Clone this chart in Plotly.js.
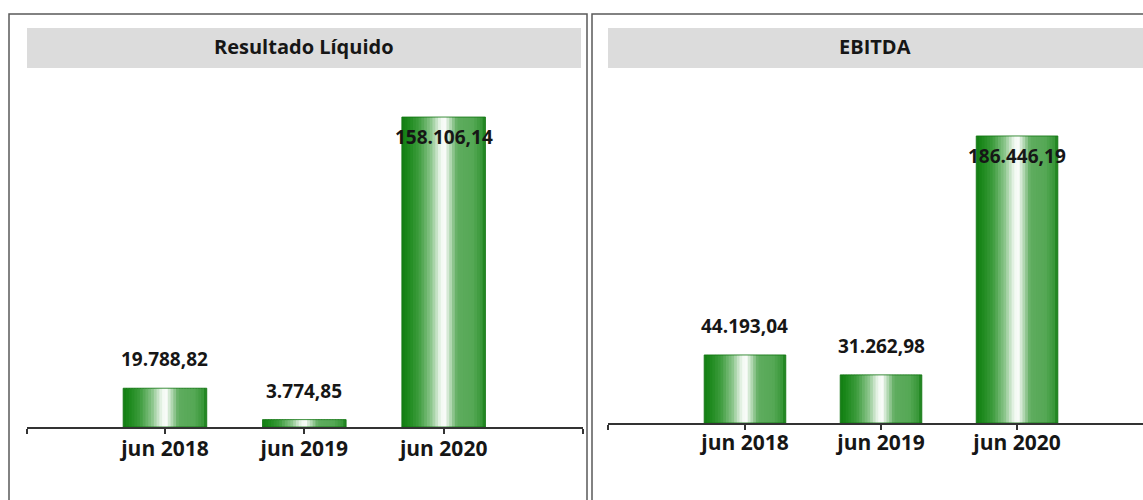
<!DOCTYPE html>
<html>
<head>
<meta charset="utf-8">
<script src="https://cdn.plot.ly/plotly-3.0.1.min.js"></script>
<style>
  html, body { margin: 0; padding: 0; background: #fff; }
  #chart { width: 1143px; height: 500px; }
</style>
</head>
<body>
<div id="chart"></div>
<script>
// data
const categories = ['jun 2018', 'jun 2019', 'jun 2020'];
const resultadoLiquido = [19788.82, 3774.85, 158106.14];
const ebitda = [44193.04, 31262.98, 186446.19];
const panelTitles = ['Resultado Líquido', 'EBITDA'];

const W = 1143, H = 500;
const px = x => x / W;
const py = y => 1 - y / H;

const FONT = '"Open Sans", "DejaVu Sans", sans-serif';
const BAR_W = 0.6;
const STRIPS = 30;

// horizontal colour profile of the bars (left edge -> right edge)
const profile = [
	[0.00, [20, 125, 20]],
	[0.06, [25, 135, 25]],
	[0.20, [60, 155, 60]],
	[0.35, [140, 198, 140]],
	[0.46, [235, 245, 235]],
	[0.51, [255, 255, 255]],
	[0.57, [190, 222, 190]],
	[0.66, [95, 172, 95]],
	[0.85, [85, 168, 85]],
	[0.96, [55, 150, 55]],
	[1.00, [20, 125, 20]]
];

function colourAt(t) {
	for (let i = 1; i < profile.length; i++) {
		if (t <= profile[i][0]) {
			const [t0, c0] = profile[i - 1];
			const [t1, c1] = profile[i];
			const f = (t - t0) / (t1 - t0);
			const c = c0.map((v, k) => Math.round(v + (c1[k] - v) * f));
			return `rgb(${c.join(',')})`;
		}
	}
	return 'rgb(20,125,20)';
}

function fmt(v) {
	const [intPart, dec] = v.toFixed(2).split('.');
	return intPart.replace(/\B(?=(\d{3})+(?!\d))/g, '.') + ',' + dec;
}

// gradient bars: narrow vertical strips side by side, all from the same values
function gradientBars(values, xa, ya) {
	const traces = [];
	const step = BAR_W / STRIPS;
	for (let i = 0; i < STRIPS; i++) {
		traces.push({
			type: 'bar',
			x: categories,
			y: values,
			xaxis: xa,
			yaxis: ya,
			offset: -BAR_W / 2 + i * step,
			width: i === STRIPS - 1 ? step : step * 1.4,
			marker: { color: colourAt((i + 0.5) / STRIPS), line: { width: 0 } },
			hoverinfo: 'skip',
			showlegend: false
		});
	}
	traces.push({
		type: 'bar',
		x: categories,
		y: values,
		xaxis: xa,
		yaxis: ya,
		offset: -BAR_W / 2,
		width: BAR_W,
		marker: { color: 'rgba(0,0,0,0)', line: { width: 1, color: 'rgba(15,115,15,0.8)' } },
		hoverinfo: 'skip',
		showlegend: false
	});
	return traces;
}

function valueLabels(values, xa, ya) {
	const max = Math.max(...values);
	return values.map((v, i) => ({
		xref: xa,
		yref: ya,
		x: categories[i],
		y: v,
		yshift: v === max ? -20 : 29,
		text: fmt(v),
		showarrow: false,
		xanchor: 'center',
		yanchor: 'middle',
		font: { family: FONT, size: 19, color: '#161616', weight: 700 }
	}));
}

const xaxisBase = {
	type: 'category',
	showgrid: false,
	zeroline: false,
	showline: true,
	linecolor: '#333',
	linewidth: 2,
	ticks: 'outside',
	ticklen: 5,
	tickwidth: 2,
	tickcolor: '#333',
	tickmode: 'array',
	ticklabelstandoff: -3,
	tickfont: { family: FONT, size: 21, color: '#161616', weight: 700 },
	fixedrange: true
};

const yaxisBase = {
	visible: false,
	showgrid: false,
	zeroline: false,
	fixedrange: true
};

const data = [
	...gradientBars(resultadoLiquido, 'x', 'y'),
	...gradientBars(ebitda, 'x2', 'y2')
];

const titleFont = { family: FONT, size: 20, color: '#161616', weight: 700 };

const layout = {
	width: W,
	height: H,
	margin: { l: 0, r: 0, t: 0, b: 0, pad: 0 },
	paper_bgcolor: '#fff',
	plot_bgcolor: 'rgba(0,0,0,0)',
	barmode: 'overlay',
	showlegend: false,
	xaxis: Object.assign({}, xaxisBase, {
		domain: [px(27), px(583)],
		range: [-0.99, 3.0],
		tickvals: [-0.99, 0, 1, 2, 3.0],
		ticktext: ['', ...categories, ''],
		anchor: 'y'
	}),
	yaxis: Object.assign({}, yaxisBase, {
		domain: [py(427), py(90)],
		range: [0, 171900],
		anchor: 'x'
	}),
	xaxis2: Object.assign({}, xaxisBase, {
		domain: [px(608), 1],
		range: [-1.007, 2.926],
		tickvals: [-1.007, 0, 1, 2],
		ticktext: ['', ...categories],
		ticklabelstandoff: -5,
		anchor: 'y2'
	}),
	yaxis2: Object.assign({}, yaxisBase, {
		domain: [py(423), py(90)],
		range: [0, 216300],
		anchor: 'x2'
	}),
	shapes: [
		// panel frames
		{ type: 'rect', xref: 'paper', yref: 'paper', x0: px(9), x1: px(587), y0: py(505), y1: py(14),
			line: { color: '#5a5a5a', width: 1.5 }, fillcolor: 'rgba(0,0,0,0)', layer: 'below' },
		{ type: 'rect', xref: 'paper', yref: 'paper', x0: px(592), x1: px(1150), y0: py(505), y1: py(14),
			line: { color: '#5a5a5a', width: 1.5 }, fillcolor: 'rgba(0,0,0,0)', layer: 'below' },
		// title bars
		{ type: 'rect', xref: 'paper', yref: 'paper', x0: px(27), x1: px(581), y0: py(68), y1: py(28),
			line: { width: 0 }, fillcolor: '#dcdcdc', layer: 'below' },
		{ type: 'rect', xref: 'paper', yref: 'paper', x0: px(608), x1: px(1150), y0: py(68), y1: py(28),
			line: { width: 0 }, fillcolor: '#dcdcdc', layer: 'below' }
	],
	annotations: [
		{ xref: 'paper', yref: 'paper', x: px(304), y: py(47), xanchor: 'center', yanchor: 'middle',
			text: panelTitles[0], showarrow: false, font: titleFont },
		{ xref: 'paper', yref: 'paper', x: px(875), y: py(47), xanchor: 'center', yanchor: 'middle',
			text: panelTitles[1], showarrow: false, font: titleFont },
		...valueLabels(resultadoLiquido, 'x', 'y'),
		...valueLabels(ebitda, 'x2', 'y2')
	]
};

Plotly.newPlot('chart', data, layout, { displayModeBar: false, staticPlot: true });
</script>
</body>
</html>
